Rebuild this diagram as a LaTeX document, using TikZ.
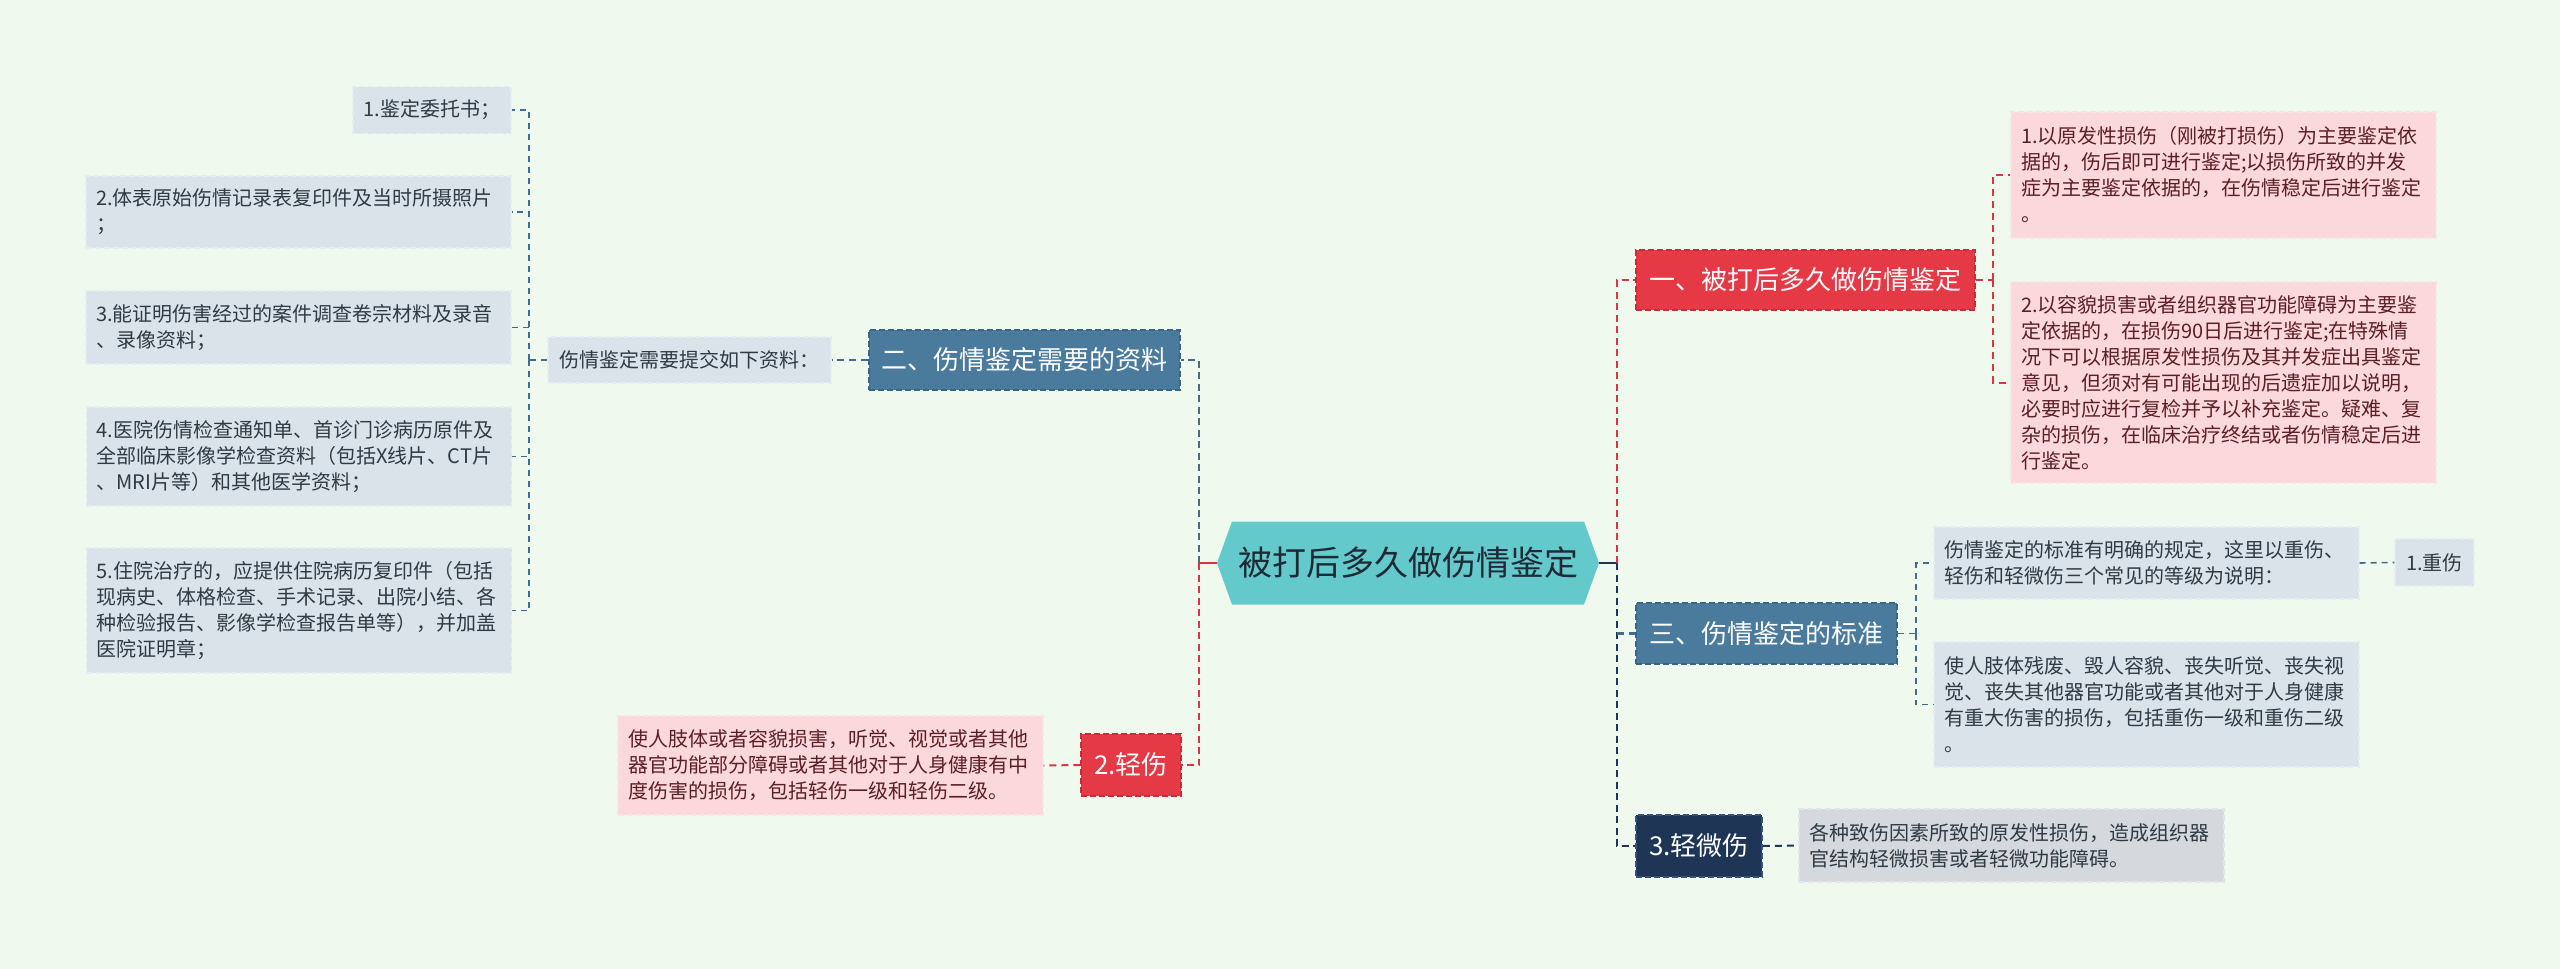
\documentclass[tikz,border=0pt]{standalone}
\usepackage{fontspec}
\setmainfont{Noto Sans CJK SC}
\usetikzlibrary{calc}
\definecolor{bgc}{HTML}{F0F9EE}
\definecolor{rootfill}{HTML}{63C9CB}
\definecolor{roottext}{HTML}{1E2A36}
\definecolor{redc}{HTML}{E63946}
\definecolor{redd}{HTML}{C52D3B}
\definecolor{bluec}{HTML}{4A7B9D}
\definecolor{blued}{HTML}{3A6686}
\definecolor{navyc}{HTML}{1E3556}
\definecolor{navyd}{HTML}{34527A}
\definecolor{redl}{HTML}{DC3444}
\definecolor{bluel}{HTML}{3F6E91}
\definecolor{navyl}{HTML}{1E3556}
\definecolor{lbfill}{HTML}{DAE3EA}
\definecolor{lbdraw}{HTML}{E6EDF2}
\definecolor{lbtext}{HTML}{2E3A44}
\definecolor{pkfill}{HTML}{FAD8DC}
\definecolor{pkdraw}{HTML}{F6E4E7}
\definecolor{pktext}{HTML}{5C1F26}
\definecolor{gyfill}{HTML}{D5D9DE}
\definecolor{gydraw}{HTML}{E2E5E8}
\tikzset{
  base/.style={inner sep=0pt, align=left},
  lbox/.style={base, fill=lbfill, draw=lbdraw, line width=1.2pt, dash pattern=on 6pt off 3pt, text=lbtext, font=\fontsize{20pt}{26pt}\selectfont},
  pbox/.style={lbox, fill=pkfill, draw=pkdraw, text=pktext},
  gbox/.style={lbox, fill=gyfill, draw=gydraw},
  tw/.style={text width=405pt, minimum width=425pt},
  mainbox/.style={base, font=\fontsize{26pt}{32pt}\selectfont, text=white, line width=1.5pt, dash pattern=on 6pt off 3pt},
  conn/.style={line width=2.6pt, dash pattern=on 7pt off 4.5pt},
  subconn/.style={line width=2pt, dash pattern=on 7pt off 5pt},
  leafconn/.style={line width=1.6pt, dash pattern=on 6pt off 5pt}
}
\begin{document}
\begin{tikzpicture}[x=1pt,y=-1pt]
\fill[bgc] (0,0) rectangle (2560,969);
\useasboundingbox (0,0) rectangle (2560,969);
% root hexagon
\coordinate (rootc) at (1408,563);
\fill[rootfill] ($(rootc)+(-191,0)$) -- ($(rootc)+(-176,-41.5)$) -- ($(rootc)+(176,-41.5)$) -- ($(rootc)+(191,0)$) -- ($(rootc)+(176,41.5)$) -- ($(rootc)+(-176,41.5)$) -- cycle;
\node[base, minimum width=382pt, minimum height=83pt, text=roottext, font=\fontsize{34pt}{40pt}\selectfont] (root) at (rootc) {被打后多久做伤情鉴定};
% main branches
\node[mainbox, fill=redc, draw=redd, minimum width=339pt, minimum height=60pt] (n1) at (1805.5,280) {一、被打后多久做伤情鉴定};
\node[mainbox, fill=bluec, draw=blued, minimum width=311pt, minimum height=60pt] (n2) at (1024.5,360) {二、伤情鉴定需要的资料};
\node[mainbox, fill=bluec, draw=blued, minimum width=261pt, minimum height=61pt] (n3) at (1766.5,633.5) {三、伤情鉴定的标准};
\node[mainbox, fill=navyc, draw=navyd, minimum width=126pt, minimum height=62pt] (n4) at (1699,846) {3.轻微伤};
\node[mainbox, fill=redc, draw=redd, minimum width=100pt, minimum height=62pt] (q) at (1131,765) {2.轻伤};
% right leaves
\node[pbox, tw, minimum height=126pt] (a1) at (2223.5,175) {1.以原发性损伤（刚被打损伤）为主要鉴定依\\据的，伤后即可进行鉴定;以损伤所致的并发\\症为主要鉴定依据的，在伤情稳定后进行鉴定\\。};
\node[pbox, tw, minimum height=201pt] (a2) at (2223.5,382.5) {2.以容貌损害或者组织器官功能障碍为主要鉴\\定依据的，在损伤90日后进行鉴定;在特殊情\\况下可以根据原发性损伤及其并发症出具鉴定\\意见，但须对有可能出现的后遗症加以说明，\\必要时应进行复检并予以补充鉴定。疑难、复\\杂的损伤，在临床治疗终结或者伤情稳定后进\\行鉴定。};
\node[lbox, tw, minimum height=72pt] (b1) at (2146.5,563) {伤情鉴定的标准有明确的规定，这里以重伤、\\轻伤和轻微伤三个常见的等级为说明：};
\node[lbox, minimum width=79pt, minimum height=47pt] (z) at (2434.5,562.5) {1.重伤};
\node[lbox, tw, minimum height=125pt] (b2) at (2146.5,704.5) {使人肢体残废、毁人容貌、丧失听觉、丧失视\\觉、丧失其他器官功能或者其他对于人身健康\\有重大伤害的损伤，包括重伤一级和重伤二级\\。};
\node[gbox, tw, minimum height=73pt] (c1) at (2011.5,845.5) {各种致伤因素所致的原发性损伤，造成组织器\\官结构轻微损害或者轻微功能障碍。};
% left leaves
\node[lbox, minimum width=283pt, minimum height=46pt] (s) at (689.5,360) {伤情鉴定需要提交如下资料：};
\node[lbox, minimum width=158pt, minimum height=47pt] (l1) at (432,110) {1.鉴定委托书；};
\node[lbox, tw, minimum height=72pt] (l2) at (298.5,212) {2.体表原始伤情记录表复印件及当时所摄照片\\；};
\node[lbox, tw, minimum height=73pt] (l3) at (298.5,327.5) {3.能证明伤害经过的案件调查卷宗材料及录音\\、录像资料；};
\node[lbox, tw, minimum height=99pt] (l4) at (299,456.5) {4.医院伤情检查通知单、首诊门诊病历原件及\\全部临床影像学检查资料（包括X线片、CT片\\、MRI片等）和其他医学资料；};
\node[lbox, tw, minimum height=125pt] (l5) at (299,610.5) {5.住院治疗的，应提供住院病历复印件（包括\\现病史、体格检查、手术记录、出院小结、各\\种检验报告、影像学检查报告单等），并加盖\\医院证明章；};
\node[pbox, tw, minimum height=99pt] (p) at (830.5,765.5) {使人肢体或者容貌损害，听觉、视觉或者其他\\器官功能部分障碍或者其他对于人身健康有中\\度伤害的损伤，包括轻伤一级和轻伤二级。};
% connectors from root
\coordinate (Lj) at (1199,563);
\coordinate (Rj) at (1617,563);
\draw[line width=2.6pt, redl] (root.west) -- (Lj);
\draw[conn, bluel] (Lj) |- (n2.east);
\draw[conn, redl] (Lj) |- (q.east);
\draw[line width=2.6pt, navyl] (root.east) -- (Rj);
\draw[conn, redl] (Rj) |- (n1.west);
\draw[conn, navyl] (Rj) |- (n4.west);
\draw[conn, bluel] (Rj |- n3.west) -- (n3.west);
% branch one
\coordinate (n1j) at (1993,280);
\draw[subconn, redl] (n1.east) -- (n1j);
\draw[subconn, redl] (n1j) |- (a1.west);
\draw[subconn, redl] (n1j) |- (a2.west);
% branch two
\draw[subconn, bluel] (n2.west) -- (s.east);
\coordinate (sj) at (529,360);
\draw[leafconn, bluel] (s.west) -- (sj);
\draw[leafconn, bluel] (sj) |- (l1.east);
\draw[leafconn, bluel] (sj) |- (l2.east);
\draw[leafconn, bluel] (sj) |- (l3.east);
\draw[leafconn, bluel] (sj) |- (l4.east);
\draw[leafconn, bluel] (sj) |- (l5.east);
% light injury
\draw[subconn, redl] (q.west) -- (p.east);
% branch three
\coordinate (n3j) at (1916,633.5);
\draw[leafconn, bluel] (n3.east) -- (n3j);
\draw[leafconn, bluel] (n3j) |- (b1.west);
\draw[leafconn, bluel] (n3j) |- (b2.west);
\draw[leafconn, bluel] (b1.east) -- (z.west);
% minor injury
\draw[subconn, navyl] (n4.east) -- (c1.west);
\end{tikzpicture}
\end{document}
